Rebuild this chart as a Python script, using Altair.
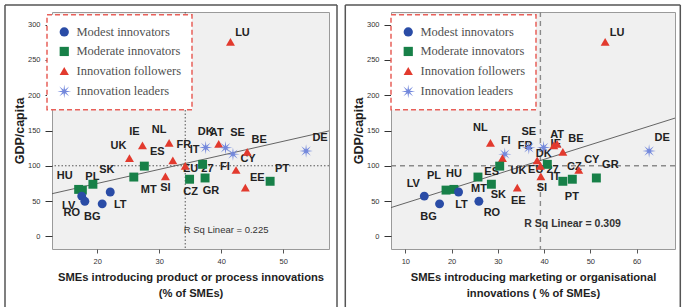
import altair as alt
import pandas as pd

# ---- data -------------------------------------------------------------
countries = ["LU", "NL", "IE", "AT", "DK", "SE", "BE", "DE", "FI", "UK",
             "FR", "IT", "EU27", "ES", "CY", "SI", "MT", "GR", "CZ", "PT",
             "SK", "EE", "HU", "PL", "LT", "LV", "RO", "BG"]

groups = ["Innovation followers", "Innovation followers", "Innovation followers",
          "Innovation followers", "Innovation leaders", "Innovation leaders",
          "Innovation followers", "Innovation leaders", "Innovation leaders",
          "Innovation followers", "Innovation followers", "Moderate innovators",
          "Innovation followers", "Moderate innovators", "Innovation followers",
          "Innovation followers", "Moderate innovators", "Moderate innovators",
          "Moderate innovators", "Moderate innovators", "Moderate innovators",
          "Innovation followers", "Moderate innovators", "Moderate innovators",
          "Modest innovators", "Modest innovators", "Modest innovators",
          "Modest innovators"]

gdp_per_capita = [275.6, 132.5, 129.0, 131.0, 126.0, 125.5, 119.6, 121.0, 116.5, 111.0,
                  107.5, 102.0, 100.0, 99.5, 94.0, 85.0, 84.0, 82.7, 80.9, 78.0,
                  73.8, 69.0, 66.5, 65.5, 62.8, 57.0, 49.6, 46.0]

sme_product_process = [41.5, 31.6, 27.3, 39.6, 37.5, 40.7, 44.2, 53.7, 41.9, 25.2,
                       32.2, 37.0, 34.2, 27.6, 42.4, 31.0, 25.9, 37.4, 34.9, 47.9,
                       19.3, 43.9, 17.0, 17.6, 22.1, 17.5, 18.0, 20.8]

sme_marketing_org = [53.2, 28.4, 42.1, 42.8, 39.9, 36.7, 44.05, 62.7, 31.5, 31.0,
                     38.5, 40.7, 39.2, 30.4, 47.5, 39.3, 25.7, 51.3, 46.1, 44.05,
                     28.6, 34.2, 20.5, 18.8, 21.5, 14.1, 25.9, 17.4]

group_order = ["Modest innovators", "Moderate innovators",
               "Innovation followers", "Innovation leaders"]

# ---- styling ----------------------------------------------------------
GROUP_COLORS = ["#2a4ca6", "#178048", "#e23a2e", "#7388dc"]
ASTERISK = ("M0,-1.5L0.16,-0.38L1.06,-1.06L0.38,-0.16L1.5,0L0.38,0.16L1.06,1.06"
            "L0.16,0.38L0,1.5L-0.16,0.38L-1.06,1.06L-0.38,0.16L-1.5,0L-0.38,-0.16"
            "L-1.06,-1.06L-0.16,-0.38Z")
GROUP_SHAPES = ["circle", "square", "triangle-up", ASTERISK]

HEIGHT = 237
Y_DOMAIN = [-18, 318]

# label placement relative to each marker, in pixels (dx, dy)
OFFSETS_PRODUCT = {
    "UK": (-11, -12), "IE": (-8, -13), "NL": (-10, -13), "ES": (13, -14),
    "FR": (11, -15), "IT": (-8, -14), "DK": (0, -15), "AT": (-2, -11),
    "SE": (12, -15), "BE": (12, -12), "CY": (12, -11), "FI": (-8, 13),
    "DE": (14, -13), "EU27": (13, 3), "CZ": (1, 13), "GR": (6, 13),
    "SI": (0, 12), "MT": (15, 13), "PT": (12, -12), "EE": (12, -10),
    "LU": (12, -9), "HU": (-14, -13), "PL": (10, -13), "SK": (14, -14),
    "LV": (-13, 10), "RO": (-13, 12), "BG": (-10, 13), "LT": (10, 13),
}
OFFSETS_MARKETING = {
    "NL": (-10, -15), "FI": (1, -13), "SE": (0, -16), "FR": (-12, -14),
    "DK": (0, 7), "AT": (0, -9), "IE": (2, -1), "BE": (13, -13),
    "UK": (16, 13), "ES": (-8, 6), "EU27": (3, 4), "IT": (8, 13),
    "CZ": (2, -12), "CY": (13, -10), "GR": (14, -13), "PT": (9, 16),
    "SI": (1, 12), "EE": (1, 13), "LV": (-11, -12), "BG": (-11, 13),
    "PL": (-12, -14), "HU": (0, -15), "LT": (3, 13), "RO": (13, 12),
    "MT": (1, 12), "SK": (7, 11), "LU": (12, -9), "DE": (13, -13),
}


def panel(x_values, x_domain, width, x_ticks, offsets, x_title, legend_x,
          ref_style, r2_text, r2_pos, r2_font, frame):
    kx = width / (x_domain[1] - x_domain[0])
    ky = HEIGHT / (Y_DOMAIN[1] - Y_DOMAIN[0])
    df = pd.DataFrame({
        "country": countries,
        "label": ["EU 27" if c == "EU27" else c for c in countries],
        "group": groups,
        "x": x_values,
        "gdp": gdp_per_capita,
    })
    df["lx"] = [x + offsets[c][0] / kx for c, x in zip(df.country, df.x)]
    df["ly"] = [y - offsets[c][1] / ky for c, y in zip(df.country, df.gdp)]

    xs = alt.Scale(domain=x_domain, nice=False, zero=False)
    ys = alt.Scale(domain=Y_DOMAIN, nice=False, zero=False)

    x_axis = alt.Axis(values=x_ticks, title=x_title, grid=False, domain=False,
                      tickSize=4, tickColor="#555", labelPadding=4,
                      labelFontSize=7.5, labelColor="#333",
                      titleFontSize=11.2, titleFontWeight="bold",
                      titleColor="#1e1e1e", titlePadding=7, titleLineHeight=15.5)
    y_axis = alt.Axis(values=[0, 50, 100, 150, 200, 250, 300], title="GDP/capita",
                      grid=False, domain=False, tickSize=7, tickColor="#333",
                      labelPadding=5, labelFontSize=7.5, labelColor="#333",
                      titleFontSize=12.5, titleFontWeight="bold",
                      titleColor="#1e1e1e", titlePadding=1)

    def X(field):
        return alt.X(field, type="quantitative", scale=xs, axis=x_axis, title=x_title)

    def Y(field):
        return alt.Y(field, type="quantitative", scale=ys, axis=y_axis,
                     title="GDP/capita")

    legend = alt.Legend(title=None, orient="none", legendX=legend_x, legendY=2.7,
                        fillColor="white", strokeColor="#e8605a", padding=11,
                        rowPadding=6.5, labelFont="Liberation Serif",
                        labelFontSize=12.5, labelColor="#505050", labelOffset=6,
                        symbolSize=85, labelLimit=200)

    one = pd.DataFrame({"k": [0]})
    fx0, fx1, fy0, fy1 = frame
    frame_color = "#555"
    frame_left = alt.Chart(one).mark_rule(color=frame_color, strokeWidth=1.5).encode(
        x=alt.value(fx0), y=alt.value(fy0), y2=alt.value(fy1))
    frame_right = alt.Chart(one).mark_rule(color=frame_color, strokeWidth=1.5).encode(
        x=alt.value(fx1), y=alt.value(fy0), y2=alt.value(fy1))
    frame_top = alt.Chart(one).mark_rule(color=frame_color, strokeWidth=1.5).encode(
        x=alt.value(fx0), x2=alt.value(fx1), y=alt.value(fy0))

    # reference lines through the EU 27 average
    eu = df[df.country == "EU27"]
    vref = alt.Chart(eu).mark_rule(**ref_style).encode(x=X("x"))
    href = alt.Chart(eu).mark_rule(**ref_style).encode(y=Y("gdp"))

    # linear fit over the member states
    fit = (alt.Chart(df[df.country != "EU27"])
           .transform_regression("x", "gdp", extent=list(x_domain))
           .mark_line(color="#555", strokeWidth=0.9)
           .encode(x=X("x"), y=Y("gdp")))

    labels = alt.Chart(df).mark_text(font="Liberation Sans", fontSize=11,
                                     fontWeight="bold", color="#222").encode(
        x=X("lx"), y=Y("ly"), text="label:N")

    points = alt.Chart(df).mark_point(filled=True, size=80, opacity=1).encode(
        x=X("x"),
        y=Y("gdp"),
        color=alt.Color("group:N", scale=alt.Scale(domain=group_order,
                                                   range=GROUP_COLORS),
                        legend=legend),
        shape=alt.Shape("group:N", scale=alt.Scale(domain=group_order,
                                                   range=GROUP_SHAPES),
                        legend=legend),
    )

    r2 = alt.Chart(one).mark_text(align="left", baseline="middle",
                                  font="Liberation Sans", color="#333",
                                  text=r2_text, **r2_font).encode(
        x=alt.value(r2_pos[0]), y=alt.value(r2_pos[1]))

    return alt.layer(frame_left, frame_right, frame_top, vref, href, fit,
                     labels, points, r2).properties(width=width, height=HEIGHT)


left = panel(
    sme_product_process, [12.7, 57.4], 277, [20, 30, 40, 50], OFFSETS_PRODUCT,
    ["SMEs introducing product or process innovations", "(% of SMEs)"],
    -5,
    dict(color="#555", strokeWidth=1, strokeDash=[1.5, 2]),
    "R Sq Linear = 0.225", (131.7, 218.3), dict(fontSize=9.5),
    (-47, 285, -7, 296),
)

right = panel(
    sme_marketing_org, [6.9, 68.3], 284, [10, 20, 30, 40, 50, 60],
    OFFSETS_MARKETING,
    ["SMEs introducing marketing or organisational", "innovations ( % of SMEs)"],
    0,
    dict(color="#8a8a8a", strokeWidth=1.4, strokeDash=[5, 4]),
    "R Sq Linear = 0.309", (133.3, 212.3), dict(fontSize=10.5, fontWeight="bold"),
    (-45.7, 289.3, -7, 296),
)

chart = (
    alt.hconcat(left, right, spacing=5)
    .resolve_scale(x="independent", y="independent",
                   color="independent", shape="independent")
    .properties(padding={"left": 3, "top": 3, "right": 0, "bottom": 0},
                background="white")
    .configure_view(fill="#f0f0f0", stroke="#9a9a9a", strokeWidth=1)
    .configure_legend(strokeDash=[5, 3], strokeWidth=1.5)
    .configure_axis(labelFont="Liberation Sans", titleFont="Liberation Sans")
)

chart.save("out.html", embed_options={"renderer": "svg", "actions": False})
